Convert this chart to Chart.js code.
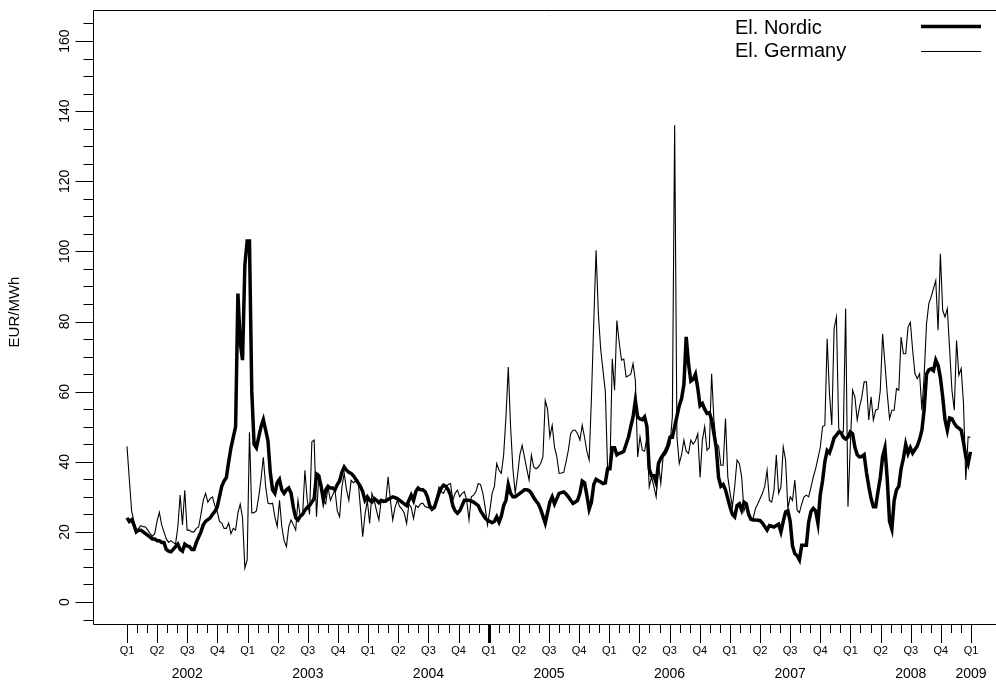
<!DOCTYPE html>
<html>
<head>
<meta charset="utf-8">
<script src="https://cdn.jsdelivr.net/npm/chart.js@4.4.1/dist/chart.umd.min.js"></script>
<style>
  html, body { margin: 0; padding: 0; background: #fff; }
  canvas { display: block; }
</style>
</head>
<body>
<canvas id="c" width="996" height="684"></canvas>
<script>
// Weekly spot prices, EUR/MWh, first week of 2002 through first week of 2009
const nordic = [
  24, 23, 23.5, 22, 20, 20.5, 20.5, 20, 19.5, 19, 18.5, 18, 18,
  17.5, 17.5, 17, 17, 15, 14.5, 14.3, 15, 15.8, 16.5, 15, 14.5, 16.5,
  16, 15.8, 15, 15, 17, 18.5, 20, 22, 23, 23.5, 24, 25, 25.8,
  27, 30, 33, 34.5, 35.5, 40, 44, 47, 50, 88, 74, 69, 96,
  103, 103, 60, 45, 44, 47, 50, 52, 49, 46, 37, 32, 31,
  34, 35, 32, 31, 32, 32.5, 31, 27, 24, 23.4, 24.5, 25, 26.2,
  27, 27.5, 28.5, 29.5, 36.5, 36, 33, 29, 32, 33, 32.5, 32.5, 32,
  33.5, 34.5, 37, 38.5, 37.6, 37, 36.7, 36, 35, 34, 33, 31.5, 29,
  30, 29, 28.5, 29.5, 29, 28.3, 29, 28.7, 28.8, 29.3, 29.6, 30, 29.8,
  29.5, 29, 28.5, 28, 27.5, 29, 30.5, 29, 31.5, 32.5, 32, 32, 31.5,
  30, 27.5, 26.5, 27, 29, 31, 32.5, 33.3, 33, 32, 30.5, 27.5, 26,
  25.3, 26, 27.5, 29, 29, 29, 28.8, 28.5, 28, 27.5, 26, 25, 23.9,
  23.3, 23, 22.6, 23, 24.3, 22.8, 24.5, 27.5, 29, 33.5, 31, 30, 30,
  30.5, 31, 31.5, 32, 32, 31.8, 31, 29.8, 28.8, 28, 26.5, 24.5, 22.5,
  25.5, 28.5, 30, 28, 29.5, 31, 31.2, 31.4, 30.8, 30, 29, 28.1, 28.5,
  29, 31, 34.5, 34, 30.5, 26.5, 28.5, 33.5, 35, 34.6, 34.2, 33.8, 34,
  38, 38, 44, 44, 42, 42.4, 42.6, 43, 45, 47, 50, 52.8, 57.5,
  52.8, 52.2, 52, 52.8, 50, 38, 36, 36, 34, 39.5, 41, 42, 43,
  44.5, 47, 47, 50, 53, 56, 58, 62, 75.6, 68, 63, 63.5, 65,
  61, 56, 56.6, 55, 53.8, 54, 52, 48, 44, 35.5, 33, 33.5, 32,
  29.5, 27, 25, 24.3, 27.5, 28, 26.2, 28.5, 28, 25, 23.6, 23.4, 23.4,
  23.3, 23.2, 22.5, 21.5, 20.5, 21.8, 21.6, 21.4, 21.8, 22.2, 20, 23, 25.7,
  26, 23, 16, 13.8, 13.2, 12, 16.2, 16.2, 16.2, 22.8, 25.8, 26.7, 26,
  22.5, 30.5, 34.5, 40, 43.2, 42.5, 44.5, 46.8, 47.6, 48.5, 48.3, 47, 46.5,
  47, 48.5, 48, 44.2, 42, 41.4, 41.5, 42, 37, 33, 29.5, 27.2, 27.2,
  31.5, 35.5, 41.5, 44, 35, 23, 20.8, 29, 32, 33, 38, 41, 45,
  42.4, 44, 42.5, 43.5, 44.5, 46.4, 49, 55, 65, 66.2, 66.5, 66, 69,
  67.5, 64, 58.5, 52, 49, 52.5, 52.3, 51, 50, 49.6, 49, 45.5, 41.5,
  39.5, 42.8
];

const germany = [
  44.4, 35, 26, 23, 20, 21, 21.8, 21.5, 21.4, 20.5, 19.5, 18.8, 19.5,
  23, 25.6, 22, 20, 18, 17, 17.5, 17, 16.5, 21.4, 30.5, 22, 31.9,
  20.5, 20.5, 20, 20, 21, 21.4, 25, 29, 31, 28.5, 29.5, 30, 27.5,
  26, 23, 22.5, 21, 21, 22.5, 19.5, 21, 20.5, 25.4, 27.9, 24, 9.7,
  12, 48.4, 25.4, 25.5, 26, 30, 35, 41.3, 33, 28.2, 28, 28.2, 24.3,
  21.5, 29, 21.5, 17.5, 15.8, 21.5, 23.4, 22, 20.5, 29, 24.3, 25, 37.6,
  29, 25, 45.7, 46.2, 24.3, 36, 33, 29, 28, 32.8, 29, 30.5, 32,
  26, 24.3, 32.8, 36.7, 32, 29, 34.7, 34, 34.5, 34.7, 27, 18.6, 25,
  29, 22.4, 31, 29, 26, 23.4, 29, 29, 29, 35.7, 29, 23.4, 27,
  29, 27.2, 26.5, 25.3, 22.4, 28, 27, 23.8, 27.5, 27, 28, 28.2, 27.2,
  27, 26.8, 27, 27.2, 30, 32.8, 31.5, 31, 32.5, 33.5, 33.8, 29, 31,
  31.9, 30, 31, 31.5, 29, 23.4, 30, 30.5, 31.5, 33.8, 33.5, 31, 27,
  22, 26, 31, 33, 39.5, 37.6, 36.7, 42, 52.8, 67, 50, 38, 31,
  36, 42, 44.7, 41.4, 38, 34.8, 41.9, 38.5, 38, 38.5, 39.5, 41.4, 57.5,
  55, 47.1, 50.4, 44.2, 41.5, 36.7, 36.8, 37, 40, 43.3, 48, 49, 49,
  48, 46.2, 50.4, 47, 43, 40.5, 58.5, 80, 100.3, 82, 72, 66, 60,
  37.6, 38, 69.4, 60.4, 80.3, 74, 69, 69.3, 64.2, 64.5, 65, 68, 63.2,
  41.4, 47.1, 43.3, 43, 47.1, 32.8, 35.7, 33, 30, 39.5, 33.8, 41.4, 42,
  43.3, 45, 52.8, 136, 47.1, 39.5, 42, 46.2, 43, 42.4, 46.2, 45, 46,
  48, 35.5, 46.2, 50, 43.3, 44, 65.1, 51.9, 45.2, 44.5, 39, 39, 52.3,
  35.7, 31, 27.2, 33, 40.5, 39.5, 35.7, 26, 28, 26, 23.4, 24, 26.7,
  28, 29.5, 31, 33, 37.6, 29, 28.5, 32, 41.9, 31, 32.8, 44.2, 40.5,
  26.7, 30, 29, 34.8, 26.2, 25.5, 28, 30, 30.5, 30, 32.8, 35.7, 38,
  41, 44, 50, 50.4, 75.1, 59.4, 50.4, 78, 81.3, 49.5, 48.5, 48.5, 83.7,
  27.2, 44.2, 60.4, 58.5, 51.9, 55.6, 58.5, 62.8, 62.8, 51.9, 58.5, 51.9, 54.7,
  55, 60.4, 76.5, 68, 59.4, 52.3, 54.7, 54.7, 60.9, 60.4, 75.6, 70.8, 70.8,
  78.4, 79.8, 71.8, 65.1, 63.7, 65.1, 54.7, 65, 79.4, 85.1, 87, 89.4, 91.7,
  77.5, 99.3, 83.2, 81.3, 83.7, 72, 60.4, 54.7, 74.6, 64.7, 66.6, 56.6, 34.8,
  47.1, 47
];

const seriesNames = ['El. Nordic', 'El. Germany'];
const quarterLabels = ['Q1', 'Q2', 'Q3', 'Q4'];
const years = [2002, 2003, 2004, 2005, 2006, 2007, 2008, 2009];
const yTickValues = [0, 20, 40, 60, 80, 100, 120, 140, 160];

const FIRST_YEAR = 2002;
const WEEK = 7 / 365.25;               // one week as a fraction of a year
const toPoints = arr => arr.map((v, i) => ({ x: FIRST_YEAR + i * WEEK, y: v }));

const FONT = '"Liberation Sans", Arial, Helvetica, sans-serif';

// Draws the axes, quarter/month ticks, year labels and legend
const axesPlugin = {
  id: 'axesPlugin',
  afterDraw(chart) {
    const { ctx, chartArea: a, scales: { x, y } } = chart;
    const W = chart.width;
    ctx.save();
    ctx.strokeStyle = '#000';
    ctx.fillStyle = '#000';
    ctx.lineWidth = 1;

    // left axis, bottom axis and top rule
    ctx.beginPath();
    ctx.moveTo(W, a.top + 0.5);
    ctx.lineTo(a.left + 0.5, a.top + 0.5);
    ctx.lineTo(a.left + 0.5, a.bottom + 0.5);
    ctx.lineTo(W, a.bottom + 0.5);
    ctx.stroke();

    // y ticks every 5, long ones at every 20
    for (let v = -5; v <= 165; v += 5) {
      const py = Math.round(y.getPixelForValue(v)) + 0.5;
      const len = (v % 20 === 0) ? 18 : 10;
      ctx.beginPath();
      ctx.moveTo(a.left - len + 0.5, py);
      ctx.lineTo(a.left + 0.5, py);
      ctx.stroke();
    }
    ctx.font = '14px ' + FONT;
    ctx.textAlign = 'center';
    ctx.textBaseline = 'middle';
    yTickValues.forEach(v => {
      const py = y.getPixelForValue(v);
      ctx.save();
      ctx.translate(65, py);
      ctx.rotate(-Math.PI / 2);
      ctx.fillText(String(v), 0, 0);
      ctx.restore();
    });

    // axis title
    ctx.save();
    ctx.font = '15px ' + FONT;
    ctx.translate(15, 312);
    ctx.rotate(-Math.PI / 2);
    ctx.fillText('EUR/MWh', 0, 0);
    ctx.restore();

    // x ticks: monthly minors, quarterly majors
    const firstYear = years[0], lastYear = years[years.length - 1];
    const months = (lastYear - firstYear) * 12;
    for (let m = 0; m <= months; m++) {
      const px = Math.round(x.getPixelForValue(firstYear + m / 12)) + 0.5;
      const major = m % 3 === 0;
      ctx.lineWidth = (m === 36) ? 3 : 1;
      ctx.beginPath();
      ctx.moveTo(px, a.bottom);
      ctx.lineTo(px, a.bottom + (major ? 19 : 9));
      ctx.stroke();
    }
    ctx.lineWidth = 1;
    ctx.font = '11px ' + FONT;
    for (let q = 0; q <= months / 3; q++) {
      const px = x.getPixelForValue(firstYear + q / 4);
      ctx.fillText(quarterLabels[q % 4], px, a.bottom + 27);
    }
    ctx.font = '14px ' + FONT;
    years.forEach(yr => {
      const center = yr === lastYear ? yr : yr + 0.5;
      ctx.fillText(String(yr), x.getPixelForValue(center), a.bottom + 50);
    });

    // legend
    ctx.textAlign = 'left';
    ctx.font = '20px ' + FONT;
    const widths = [3.5, 1.2];
    const lineY = [26.5, 51.5];
    seriesNames.forEach((name, i) => {
      ctx.fillText(name, 735, 28.5 + i * 23);
      ctx.lineWidth = widths[i];
      ctx.beginPath();
      ctx.moveTo(921, lineY[i]);
      ctx.lineTo(981, lineY[i]);
      ctx.stroke();
    });
    ctx.restore();
  }
};

new Chart(document.getElementById('c').getContext('2d'), {
  type: 'line',
  data: {
    datasets: [
      { label: seriesNames[0], data: toPoints(nordic), borderColor: '#000', borderWidth: 3.5,
        pointRadius: 0, tension: 0, borderJoinStyle: 'miter', fill: false },
      { label: seriesNames[1], data: toPoints(germany), borderColor: '#000', borderWidth: 1.1,
        pointRadius: 0, tension: 0, fill: false }
    ]
  },
  options: {
    responsive: false,
    animation: false,
    events: [],
    layout: { padding: { left: 93, top: 10, right: 0, bottom: 60 } },
    scales: {
      x: { type: 'linear', min: 2001.718, max: 2009.2073, display: false },
      y: { type: 'linear', min: -6.27, max: 168.85, display: false }
    },
    plugins: { legend: { display: false }, tooltip: { enabled: false } }
  },
  plugins: [axesPlugin]
});
</script>
</body>
</html>
